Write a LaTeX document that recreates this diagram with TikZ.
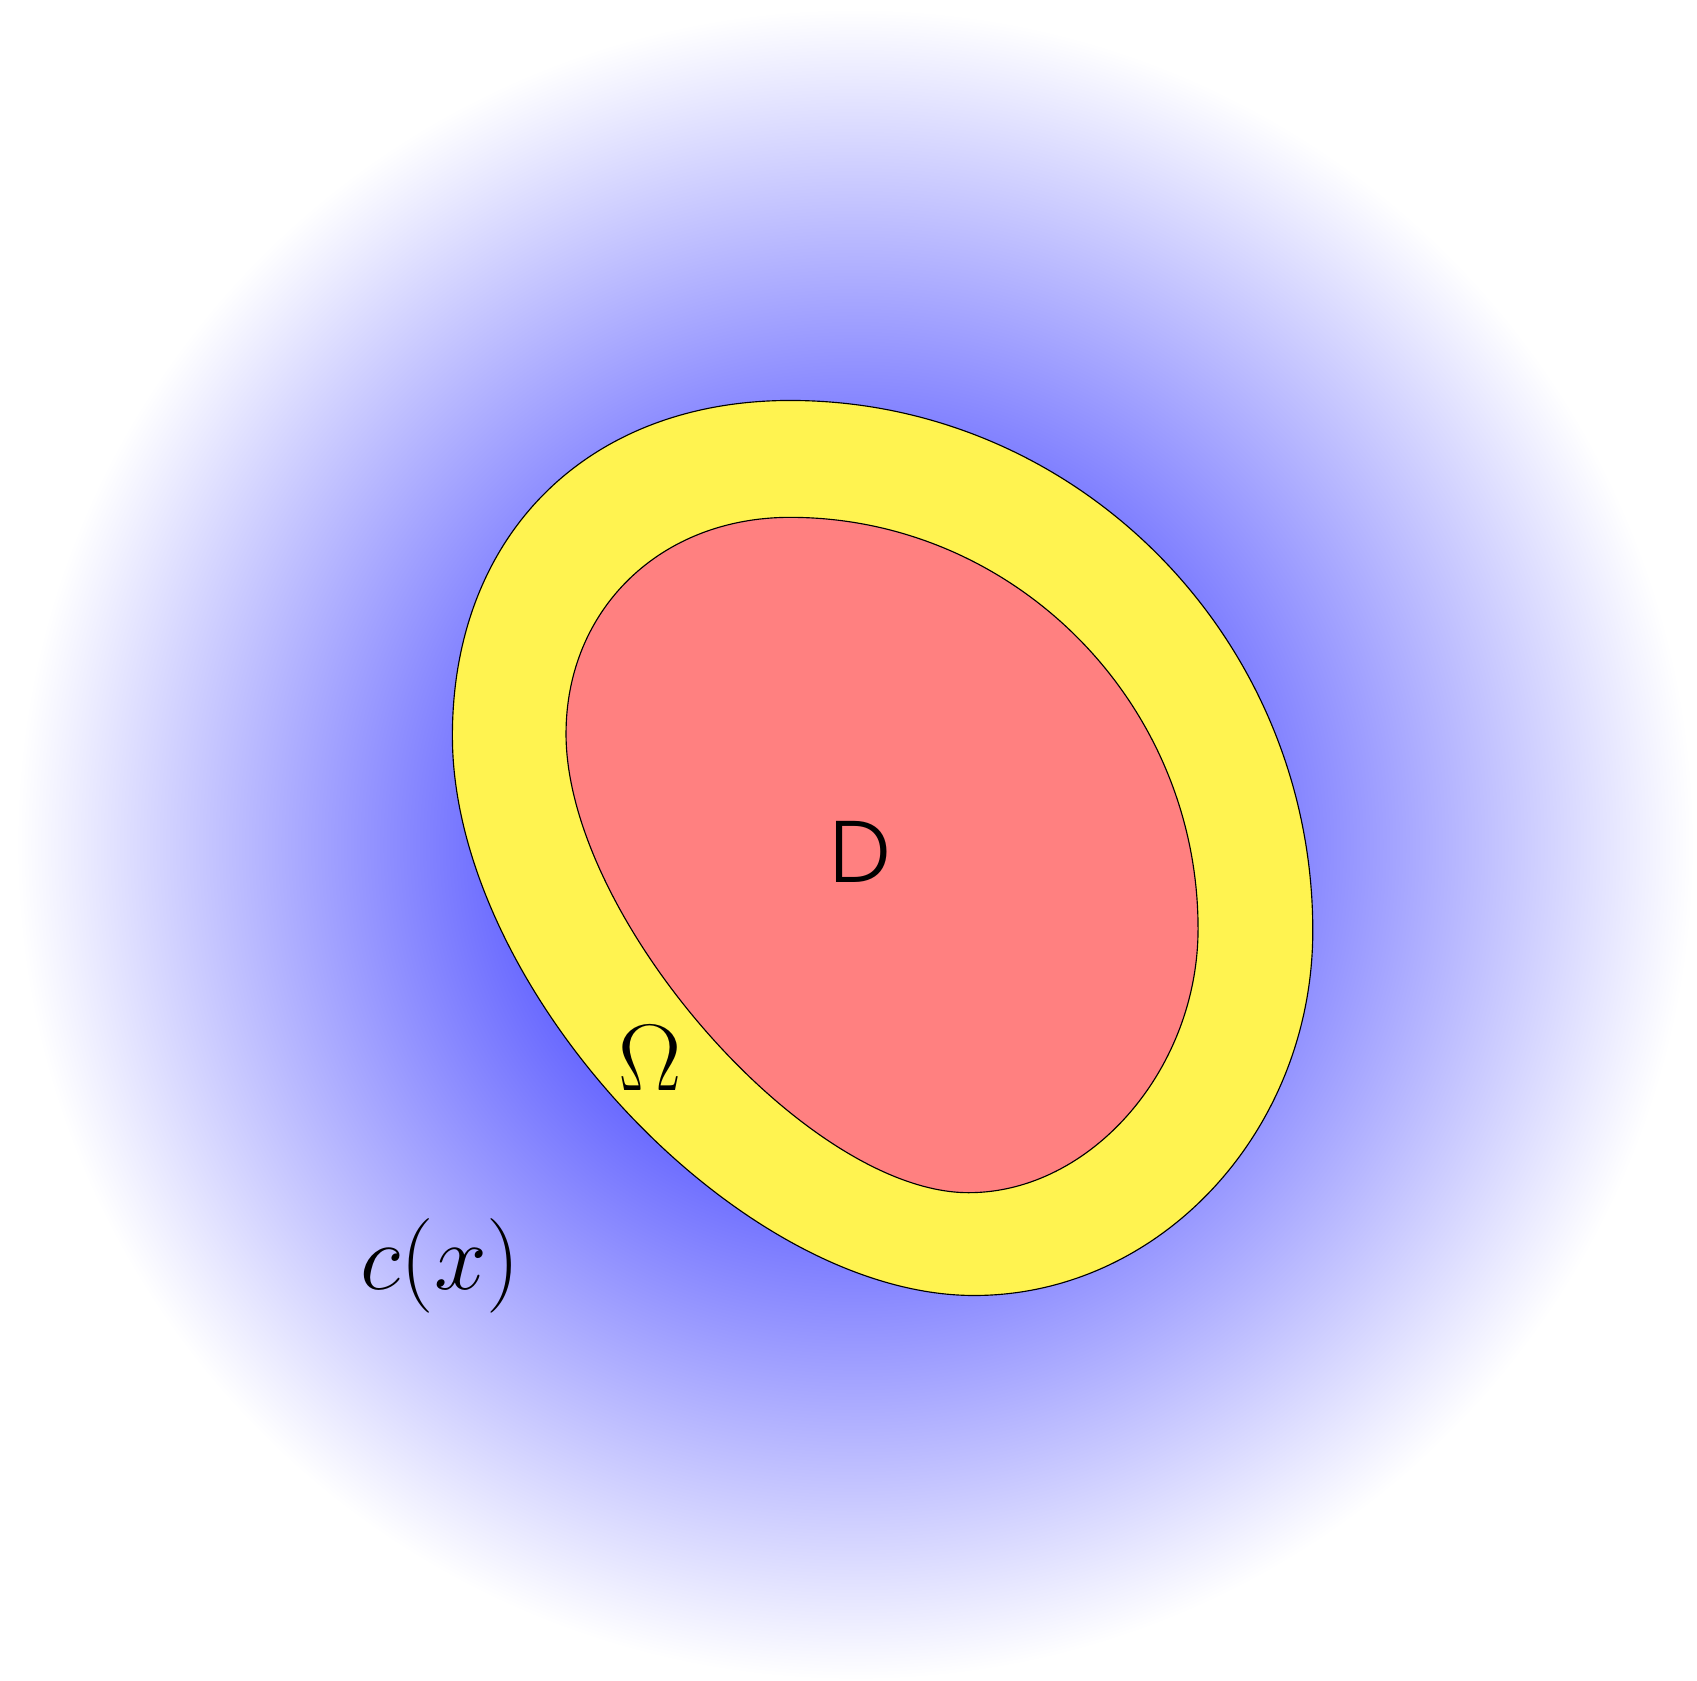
\documentclass[tikz,border=0pt]{standalone}
\usepackage{fontspec}
\newfontfamily\dfont{Poppins}[UprightFont=* Light]
\definecolor{yelfill}{RGB}{255,243,80}
\definecolor{redfill}{RGB}{255,128,128}
\pgfdeclareradialshading{bgshade}{\pgfpointorigin}{color(0bp)=(blue); color(25bp)=(white); color(50bp)=(white)}
\tikzset{
  region/.style={draw=black, line width=0.3pt},
  lbl/.style={inner sep=0pt, font=\fontsize{23}{28}\selectfont}
}
\begin{document}
\begin{tikzpicture}[x=0.1mm,y=-0.1mm]
\useasboundingbox (0,0) rectangle (1568,1553);
\fill[white] (0,0) rectangle (1568,1553);
\shade[shading=bgshade] (790,780) ellipse [x radius=775, y radius=772];
% outer region Omega
\path[region, fill=yelfill] (418,680) .. controls (418,494) and (543,370) .. (730,370)
  .. controls (996,370) and (1213,590) .. (1213,860)
  .. controls (1213,1045) and (1072,1197) .. (900,1197)
  .. controls (683,1197) and (418,913) .. (418,680) -- cycle;
% inner region D
\path[region, fill=redfill] (523,678) .. controls (523,563) and (610,478) .. (730,478)
  .. controls (937,478) and (1107,649) .. (1107,858)
  .. controls (1107,988) and (1008,1102) .. (895,1102)
  .. controls (746,1102) and (523,848) .. (523,678) -- cycle;
\node[lbl] (D) at (795,787) {\dfont D};
\node[lbl] (Om) at (601,978) {$\Omega$};
\node[lbl] (cx) at (407,1170) {$c(x)$};
\end{tikzpicture}
\end{document}
